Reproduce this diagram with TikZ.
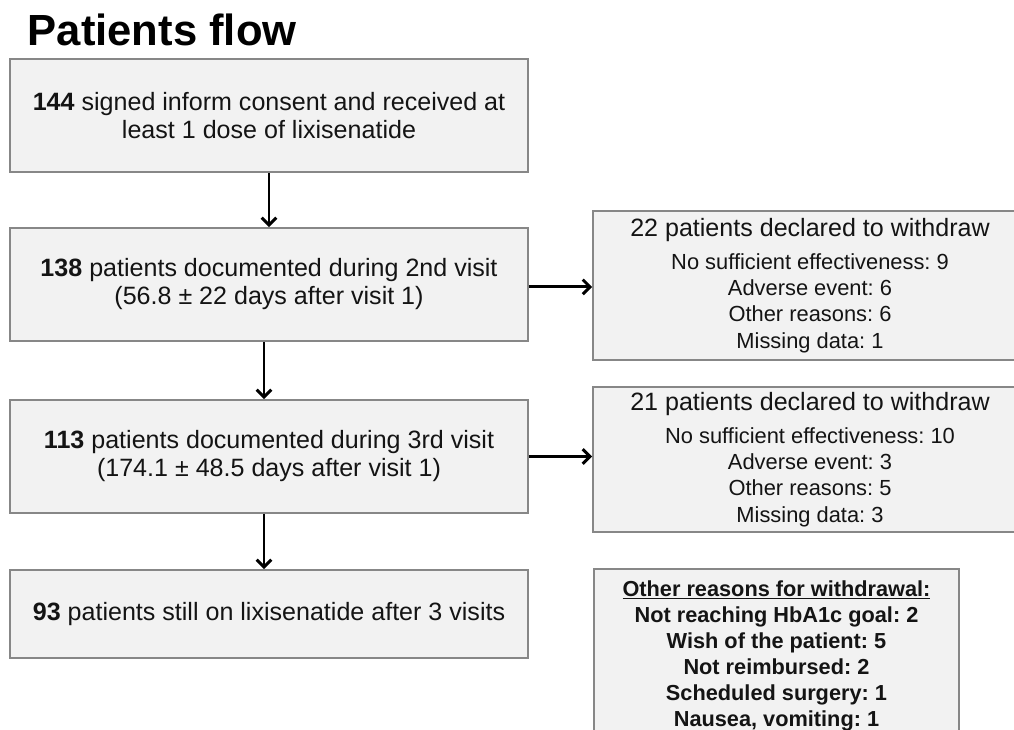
\documentclass[tikz,border=0pt]{standalone}
\usepackage{fontspec}
\setmainfont{Liberation Sans}
\usetikzlibrary{arrows.meta}
\definecolor{boxgray}{RGB}{135,135,135}
\definecolor{boxfill}{RGB}{242,242,242}
\definecolor{ink}{RGB}{20,20,20}
\begin{document}
\frenchspacing
\begin{tikzpicture}[x=0.75pt,y=-0.75pt,
  box/.style={draw=boxgray, fill=boxfill, line width=1.3pt, inner sep=0pt, align=center, text=ink},
  lbox/.style={box, minimum width=388.5pt, font=\fontsize{18.8}{21}\selectfont},
  rbox/.style={box, minimum width=325.5pt, font=\fontsize{16.4}{19.7}\selectfont},
  arr/.style={line width=2.2pt, draw=black, -{Straight Barb[length=5.5pt,width=11pt]}},
]
\path[use as bounding box] (0,0) rectangle (1014,730);
\clip (0,0) rectangle (1014,730);
\fill[white] (0,0) rectangle (1014,730);

\node[anchor=base west, text=black, font=\bfseries\fontsize{32.7}{36}\selectfont] (title) at (23,46) {Patients flow};

\node[lbox, minimum height=84.75pt] (b1) at (269,115.5)
  {\textbf{144} signed inform consent and received at\\least 1 dose of lixisenatide};
\node[lbox, minimum height=84.75pt] (b2) at (269,284.5)
  {\textbf{138} patients documented during 2nd visit\\(56.8 ± 22 days after visit 1)};
\node[lbox, minimum height=84.75pt] (b3) at (269,456.5)
  {\textbf{113} patients documented during 3rd visit\\(174.1 ± 48.5 days after visit 1)};
\node[lbox, minimum height=66pt] (b4) at (269,614)
  {\textbf{93} patients still on lixisenatide after 3 visits};

\node[rbox, minimum height=111.75pt] (r1) at (810,285.5)
  {{\fontsize{18.8}{21}\selectfont 22 patients declared to withdraw}\\[5pt]
   No sufficient effectiveness: 9\\Adverse event: 6\\Other reasons: 6\\Missing data: 1};
\node[rbox, minimum height=108.75pt] (r2) at (810,459.5)
  {{\fontsize{18.8}{21}\selectfont 21 patients declared to withdraw}\\[5pt]
   No sufficient effectiveness: 10\\Adverse event: 3\\Other reasons: 5\\Missing data: 3};
\node[box, minimum width=273.75pt, minimum height=129.75pt,
      font=\bfseries\fontsize{16.3}{19.5}\selectfont] (r3) at (776.5,655.5)
  {\underline{Other reasons for withdrawal:}\\Not reaching HbA1c goal: 2\\Wish of the patient: 5\\Not reimbursed: 2\\Scheduled surgery: 1\\Nausea, vomiting: 1};

\draw[arr] (b1.south) -- (b2.north);
\draw[arr] ([xshift=-3.75pt]b2.south) -- ([xshift=-3.75pt]b3.north);
\draw[arr] ([xshift=-3.75pt]b3.south) -- ([xshift=-3.75pt]b4.north);
\draw[arr] ([yshift=-1.8pt]b2.east) -- ([yshift=-1.8pt]b2.east -| r1.west);
\draw[arr] (b3.east) -- (b3.east -| r2.west);
\end{tikzpicture}
\end{document}
